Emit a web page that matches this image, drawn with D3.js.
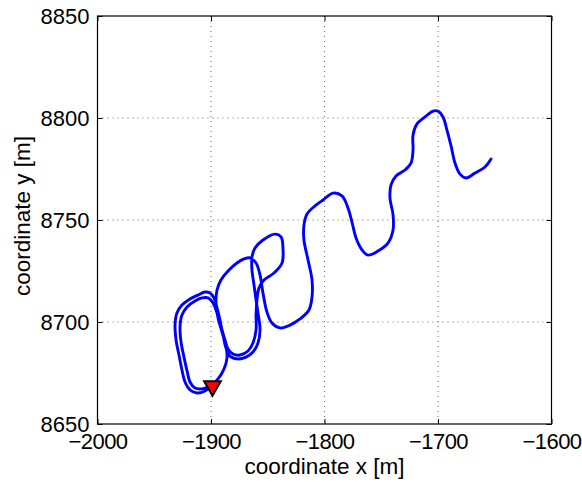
<!DOCTYPE html>
<html>
<head>
<meta charset="utf-8">
<script src="https://cdn.jsdelivr.net/npm/d3@7"></script>
<style>
  html, body { margin: 0; padding: 0; background: #fff; }
  svg { display: block; font-family: "Liberation Sans", Arial, sans-serif; }
</style>
</head>
<body>
<svg id="chart" width="582" height="485"></svg>
<script>
// trajectory, metres
const pathX = [
  -1898.7, -1905.3, -1912.3, -1918.5, -1922.9, -1925.6, -1928.2, -1930.8, -1931.7, -1930.0,
  -1925.6, -1918.5, -1911.5, -1905.3, -1900.9, -1897.4, -1894.7, -1892.1, -1889.4, -1886.8,
  -1883.3, -1876.2, -1869.2, -1863.0, -1858.6, -1856.8, -1858.6, -1860.3, -1862.1, -1863.9,
  -1863.9, -1861.2, -1854.2, -1843.6, -1838.3, -1836.6, -1837.4, -1844.5, -1853.3, -1857.7,
  -1859.5, -1860.3, -1860.3, -1863.0, -1867.4, -1874.4, -1880.6, -1885.0, -1887.7, -1891.2,
  -1894.7, -1898.2, -1902.6, -1907.9, -1914.1, -1921.1, -1925.6, -1927.3, -1926.4, -1923.8,
  -1921.1, -1918.5, -1914.1, -1907.9, -1900.9, -1893.8, -1888.5, -1885.9, -1886.8, -1890.3,
  -1893.8, -1895.6, -1894.7, -1891.2, -1885.0, -1877.1, -1870.9, -1865.6, -1860.3, -1856.8,
  -1854.2, -1850.7, -1846.3, -1839.2, -1830.4, -1821.6, -1813.7, -1811.0, -1811.0, -1814.5,
  -1818.1, -1818.1, -1815.4, -1808.4, -1801.3, -1792.5, -1784.6, -1779.3, -1775.8, -1772.2,
  -1766.9, -1761.7, -1752.9, -1744.1, -1739.6, -1739.6, -1742.3, -1741.4, -1737.0, -1729.1,
  -1723.8, -1722.0, -1722.0, -1718.5, -1711.5, -1704.4, -1700.0, -1695.6, -1692.1, -1688.5,
  -1685.0, -1680.6, -1675.3, -1667.4, -1658.6, -1653.3
]
const pathY = [
  8669.1, 8666.2, 8665.2, 8666.7, 8670.6, 8676.5, 8683.8, 8691.2, 8698.5, 8704.4,
  8708.3, 8711.3, 8713.2, 8714.7, 8714.2, 8711.8, 8706.9, 8701.0, 8693.6, 8687.3,
  8683.3, 8681.9, 8682.8, 8685.3, 8689.7, 8696.1, 8704.4, 8710.8, 8718.1, 8725.5,
  8731.9, 8736.3, 8740.2, 8743.1, 8741.7, 8736.3, 8728.9, 8724.0, 8720.6, 8716.7,
  8710.8, 8703.4, 8696.1, 8689.7, 8685.8, 8683.8, 8684.3, 8686.8, 8691.2, 8698.0,
  8704.4, 8709.3, 8711.8, 8711.8, 8710.3, 8707.4, 8703.4, 8697.5, 8690.2, 8682.8,
  8676.0, 8670.6, 8667.6, 8667.2, 8668.6, 8672.1, 8677.0, 8682.4, 8688.2, 8695.1,
  8702.0, 8709.3, 8715.7, 8720.6, 8725.0, 8728.9, 8730.9, 8731.4, 8728.9, 8723.0,
  8714.2, 8704.9, 8699.5, 8697.1, 8698.5, 8701.5, 8705.9, 8712.3, 8720.6, 8730.4,
  8740.2, 8747.5, 8752.9, 8756.9, 8759.8, 8763.2, 8761.8, 8755.9, 8749.0, 8741.2,
  8735.3, 8732.8, 8734.8, 8738.7, 8745.1, 8752.5, 8760.8, 8767.2, 8771.6, 8774.5,
  8777.9, 8784.3, 8791.7, 8797.1, 8800.5, 8803.4, 8803.4, 8800.5, 8794.1, 8786.3,
  8777.9, 8772.5, 8770.6, 8773.0, 8776.0, 8779.9
]
const startPoint = [-1898.7, 8669.1]

const xTicks = [-2000, -1900, -1800, -1700, -1600]
const yTicks = [8650, 8700, 8750, 8800, 8850]

const m = {top: 16, right: 30.5, bottom: 61, left: 97.5}
const width = 582, height = 485
const iw = width - m.left - m.right
const ih = height - m.top - m.bottom

const svg = d3.select("#chart")
const g = svg.append("g").attr("transform", `translate(${m.left},${m.top})`)

const x = d3.scaleLinear().domain([-2000, -1600]).range([0, iw])
const y = d3.scaleLinear().domain([8650, 8850]).range([ih, 0])

const fmt = (v) => (v < 0 ? "\u2212" + Math.abs(v) : String(v))
const fontSize = 22

// grid
g.append("g")
  .selectAll("line")
  .data(xTicks.slice(1, -1))
  .join("line")
  .attr("x1", (d) => x(d)).attr("x2", (d) => x(d))
  .attr("y1", 0).attr("y2", ih)
  .attr("stroke", "#666").attr("stroke-width", 1)
  .attr("stroke-dasharray", "1,4")

g.append("g")
  .selectAll("line")
  .data(yTicks.slice(1, -1))
  .join("line")
  .attr("y1", (d) => y(d)).attr("y2", (d) => y(d))
  .attr("x1", 0).attr("x2", iw)
  .attr("stroke", "#666").attr("stroke-width", 1)
  .attr("stroke-dasharray", "1,4")

// trajectory
const pts = pathX.map((v, i) => [v, pathY[i]])
const line = d3.line()
  .x((d) => x(d[0]))
  .y((d) => y(d[1]))
  .curve(d3.curveCatmullRom.alpha(0.5))

g.append("path")
  .datum(pts)
  .attr("fill", "none")
  .attr("stroke", "#0000ff")
  .attr("stroke-width", 2.9)
  .attr("stroke-linejoin", "round")
  .attr("stroke-linecap", "round")
  .attr("d", line)

// start marker
g.append("path")
  .attr("d", d3.symbol().type(d3.symbolTriangle).size(120))
  .attr("transform", `translate(${x(startPoint[0])},${y(startPoint[1]) + 1}) rotate(180)`)
  .attr("fill", "#ff0000")
  .attr("stroke", "#000")
  .attr("stroke-width", 2)

// axes (box, inward ticks)
const tick = 5
g.append("g")
  .attr("transform", `translate(0,${ih})`)
  .call(d3.axisBottom(x).tickValues(xTicks).tickSize(-tick).tickPadding(10).tickFormat(fmt))
  .call((a) => a.select(".domain").remove())
  .call((a) => a.selectAll("text").attr("font-size", fontSize).attr("fill", "#000")
    .attr("letter-spacing", -0.6).attr("dy", "0.7em"))

g.append("g")
  .call(d3.axisTop(x).tickValues(xTicks).tickSize(-tick).tickFormat(""))
  .call((a) => a.select(".domain").remove())

g.append("g")
  .call(d3.axisLeft(y).tickValues(yTicks).tickSize(-tick).tickPadding(8).tickFormat(fmt))
  .call((a) => a.select(".domain").remove())
  .call((a) => a.selectAll("text").attr("font-size", fontSize).attr("fill", "#000"))

g.append("g")
  .attr("transform", `translate(${iw},0)`)
  .call(d3.axisRight(y).tickValues(yTicks).tickSize(-tick).tickFormat(""))
  .call((a) => a.select(".domain").remove())

g.append("rect")
  .attr("width", iw).attr("height", ih)
  .attr("fill", "none").attr("stroke", "#000").attr("stroke-width", 1.2)

// labels
svg.append("text")
  .attr("x", m.left + iw / 2).attr("y", 474)
  .attr("text-anchor", "middle")
  .attr("font-size", fontSize + 0.5)
  .text("coordinate x [m]")

svg.append("text")
  .attr("transform", `translate(30,${m.top + ih / 2 - 4}) rotate(-90)`)
  .attr("text-anchor", "middle")
  .attr("font-size", fontSize + 0.5)
  .text("coordinate y [m]")
</script>
</body>
</html>
